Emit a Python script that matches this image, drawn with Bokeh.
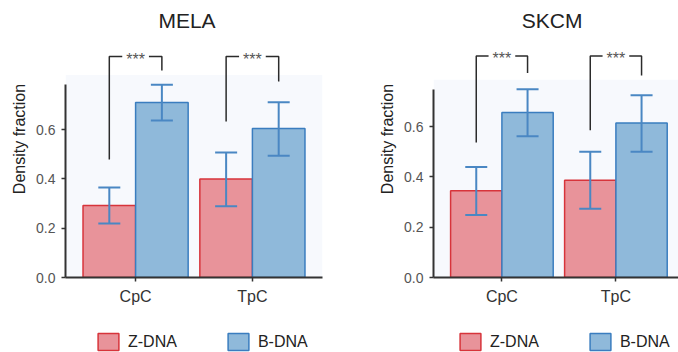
import numpy as np
from bokeh.plotting import figure
from bokeh.layouts import row, column
from bokeh.models import (ColumnDataSource, Range1d, FixedTicker, Whisker, TeeHead,
                          Legend, LegendItem, BoxAnnotation, PrintfTickFormatter)
from bokeh.core.properties import value
from bokeh.embed import file_html
from bokeh.resources import INLINE

contexts = ["CpC", "TpC"]
forms = ["Z-DNA", "B-DNA"]

# MELA: mean density fraction with error bar limits
mela_z = [0.292, 0.400]
mela_z_lo = [0.219, 0.289]
mela_z_hi = [0.365, 0.507]
mela_b = [0.710, 0.604]
mela_b_lo = [0.637, 0.494]
mela_b_hi = [0.782, 0.711]

# SKCM
skcm_z = [0.345, 0.387]
skcm_z_lo = [0.249, 0.273]
skcm_z_hi = [0.439, 0.500]
skcm_b = [0.656, 0.614]
skcm_b_lo = [0.562, 0.500]
skcm_b_hi = [0.749, 0.725]

# significance brackets: label, top level, end of the Z and B legs
mela_sig = ["***", "***"]
mela_bracket_top = [0.897, 0.897]
mela_bracket_z_end = [0.479, 0.633]
mela_bracket_b_end = [0.840, 0.795]

skcm_sig = ["***", "***"]
skcm_bracket_top = [0.881, 0.881]
skcm_bracket_z_end = [0.537, 0.585]
skcm_bracket_b_end = [0.813, 0.803]

FONT = "Liberation Sans"
Z_FILL, Z_LINE = "#e8939a", "#d7343b"
B_FILL, B_LINE = "#8fb9da", "#3a7dbf"
ERR = "#4a87c3"
DODGE = 0.225
BAR_W = 0.45
W = 339


def panel(name, z, z_lo, z_hi, b, b_lo, b_hi, sig, br_top, br_z, br_b,
          y_end, x_end, border_left, border_right, title_y):
    pos = np.arange(len(contexts), dtype=float)
    p = figure(width=W, height=312, output_backend="svg", toolbar_location=None,
               x_range=Range1d(-0.6, x_end), y_range=Range1d(0, y_end),
               min_border_left=border_left, min_border_right=border_right,
               min_border_top=0, min_border_bottom=35)
    p.grid.visible = False
    p.outline_line_color = None
    p.background_fill_color = "white"
    p.border_fill_color = "white"

    ymax = max(max(z_hi), max(b_hi))
    p.add_layout(BoxAnnotation(bottom=0, top=ymax * 1.05, fill_color="#f7f9fd",
                               fill_alpha=1, line_color=None, level="underlay"))

    zsrc = ColumnDataSource(dict(x=pos - DODGE, top=z, lo=z_lo, hi=z_hi))
    bsrc = ColumnDataSource(dict(x=pos + DODGE, top=b, lo=b_lo, hi=b_hi))
    p.vbar(x="x", top="top", bottom=0, width=BAR_W, source=zsrc,
           fill_color=Z_FILL, line_color=Z_LINE, line_width=1.5)
    p.vbar(x="x", top="top", bottom=0, width=BAR_W, source=bsrc,
           fill_color=B_FILL, line_color=B_LINE, line_width=1.5)

    for src in (zsrc, bsrc):
        p.add_layout(Whisker(base="x", upper="hi", lower="lo", source=src,
                             line_color=ERR, line_width=2, level="overlay",
                             upper_head=TeeHead(size=22, line_color=ERR, line_width=2),
                             lower_head=TeeHead(size=22, line_color=ERR, line_width=2)))

    # significance brackets between the Z and B bars of each context
    xs = [[x - DODGE, x - DODGE, x + DODGE, x + DODGE] for x in pos]
    ys = [[zl, t, t, bl] for zl, t, bl in zip(br_z, br_top, br_b)]
    p.multi_line(xs=xs, ys=ys, line_color="#2b2b2b", line_width=1.5)
    p.text(x=pos, y=br_top, text=sig, text_align="center", text_baseline="middle",
           text_font=value(FONT), text_font_size="16px", text_color="#555555",
           background_fill_color="white", padding=4, y_offset=3)

    # panel heading, centred over the two groups
    p.text(x=[pos.mean() - 0.06], y=[title_y], text=[name], text_align="center",
           text_baseline="alphabetic", text_font=value(FONT), text_font_size="21px",
           text_color="#222222")

    # axes
    p.yaxis.bounds = (0, ymax)
    p.yaxis.ticker = FixedTicker(ticks=[0.0, 0.2, 0.4, 0.6])
    p.yaxis.formatter = PrintfTickFormatter(format="%.1f")
    p.yaxis.axis_label = "Density fraction"
    p.yaxis.axis_label_text_font = FONT
    p.yaxis.axis_label_text_font_size = "16px"
    p.yaxis.axis_label_text_font_style = "normal"
    p.yaxis.axis_label_text_color = "#222222"
    p.yaxis.axis_label_standoff = 5
    p.xaxis.ticker = FixedTicker(ticks=list(pos))
    p.xaxis.major_label_overrides = {i: c for i, c in enumerate(contexts)}
    for ax in (p.xaxis, p.yaxis):
        ax.axis_line_color = "#333333"
        ax.axis_line_width = 2
        ax.major_tick_line_color = "#333333"
        ax.major_tick_line_width = 1.5
        ax.major_tick_in = 0
        ax.major_tick_out = 4
        ax.minor_tick_line_color = None
        ax.major_label_text_font = FONT
        ax.major_label_text_color = "#555555"
        ax.major_label_standoff = 6
    p.yaxis.major_label_text_font_size = "14px"
    p.xaxis.major_label_text_font_size = "16px"
    p.xaxis.major_label_text_color = "#333333"
    return p, zsrc, bsrc


def legend_strip(zsrc, bsrc, x_loc):
    # strip under each panel that carries the Z-DNA / B-DNA key; the bars sit
    # wholly inside the strip and an opaque cover hides them, so only the key
    # (drawn on top) shows
    lg = figure(width=W, height=40, output_backend="svg", toolbar_location=None,
                x_range=Range1d(-1, 2), y_range=Range1d(-1, 1),
                x_axis_type=None, y_axis_type=None,
                min_border_left=0, min_border_right=0, min_border_top=0,
                min_border_bottom=0)
    lg.grid.visible = False
    lg.outline_line_color = None
    rz = lg.vbar(x="x", top="top", bottom=0, width=BAR_W, source=zsrc,
                 fill_color=Z_FILL, line_color=Z_LINE, line_width=1.5)
    rb = lg.vbar(x="x", top="top", bottom=0, width=BAR_W, source=bsrc,
                 fill_color=B_FILL, line_color=B_LINE, line_width=1.5)
    lg.add_layout(BoxAnnotation(fill_color="white", fill_alpha=1, line_color=None,
                                level="guide"))
    legend = Legend(items=[LegendItem(label=forms[0], renderers=[rz]),
                           LegendItem(label=forms[1], renderers=[rb])],
                    orientation="horizontal", location=(x_loc, 0),
                    glyph_width=26, glyph_height=21, label_standoff=7, spacing=48,
                    label_text_font=FONT, label_text_font_size="16px",
                    label_text_color="#222222", border_line_color=None,
                    background_fill_alpha=0, padding=0, margin=0)
    lg.add_layout(legend)
    return lg


left, lz, lb = panel("MELA", mela_z, mela_z_lo, mela_z_hi, mela_b, mela_b_lo, mela_b_hi,
                     mela_sig, mela_bracket_top, mela_bracket_z_end, mela_bracket_b_end,
                     y_end=1.1237, x_end=1.6, border_left=65, border_right=17,
                     title_y=1.0445)
right, rz_, rb_ = panel("SKCM", skcm_z, skcm_z_lo, skcm_z_hi, skcm_b, skcm_b_lo, skcm_b_hi,
                        skcm_sig, skcm_bracket_top, skcm_bracket_z_end, skcm_bracket_b_end,
                        y_end=1.1014, x_end=1.549, border_left=94, border_right=0,
                        title_y=1.0208)

layout = column(row(left, right),
                row(legend_strip(lz, lb, 95), legend_strip(rz_, rb_, 118)))
open("out.html", "w").write(file_html(layout, INLINE))
